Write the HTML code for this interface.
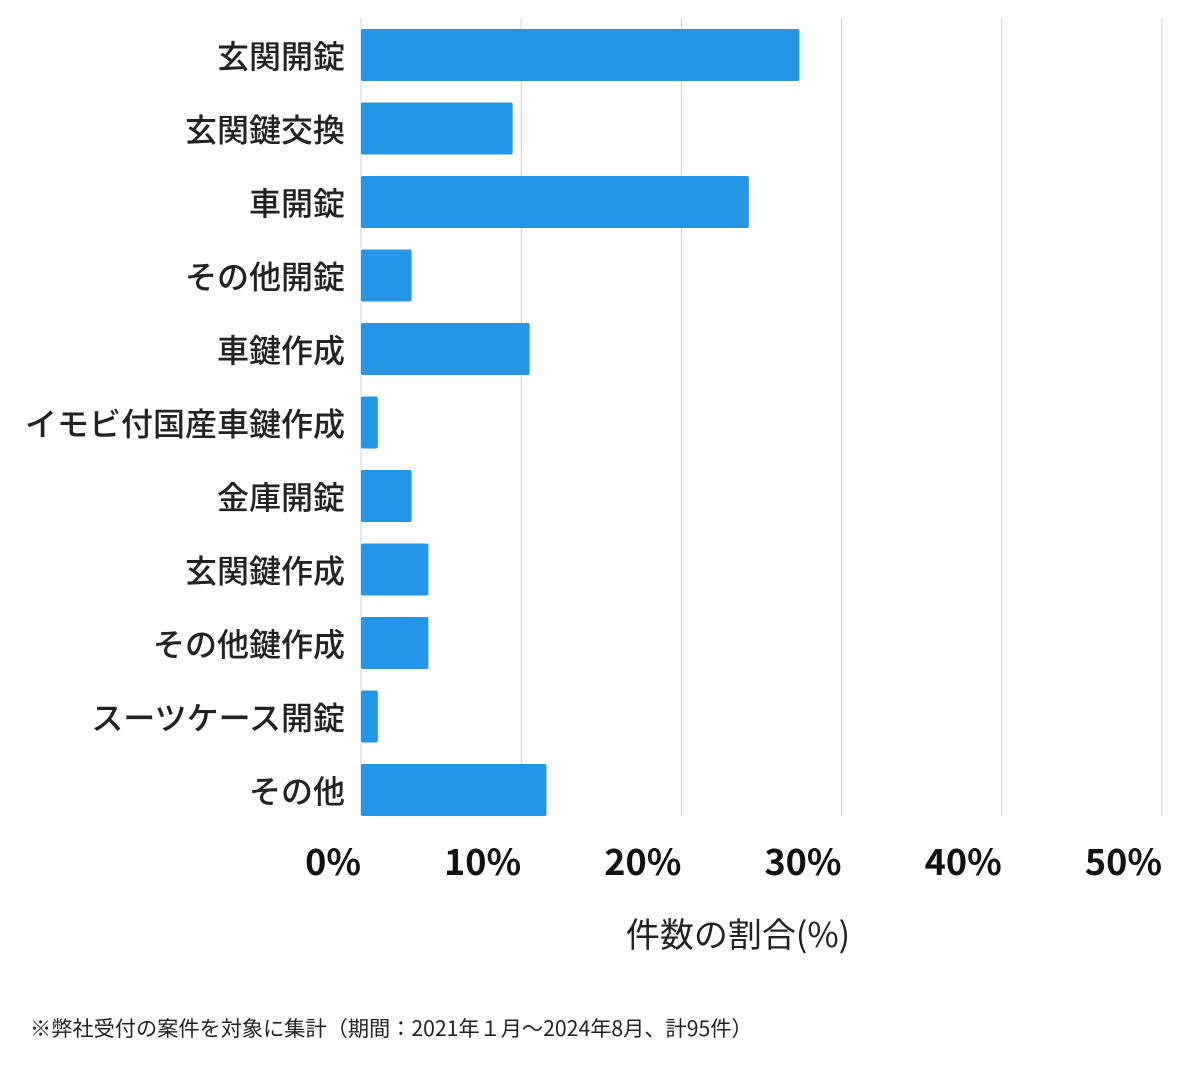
<!DOCTYPE html>
<html><head><meta charset="utf-8">
<style>
body{margin:0;background:#fff;width:1200px;height:1069px;overflow:hidden;font-family:"Noto Sans CJK JP",sans-serif;}
</style></head>
<body>
<svg id="chart" width="1200" height="1069" xmlns="http://www.w3.org/2000/svg" style="font-family:'Noto Sans CJK JP','Liberation Sans',sans-serif"></svg>
<script>
const categories=["玄関開錠","玄関鍵交換","車開錠","その他開錠","車鍵作成","イモビ付国産車鍵作成","金庫開錠","玄関鍵作成","その他鍵作成","スーツケース開錠","その他"];
const values=[27.37,9.47,24.21,3.16,10.53,1.05,3.16,4.21,4.21,1.05,11.58];
const ticks=[0,10,20,30,40,50];
const tickLabels=["0%","10%","20%","30%","40%","50%"];
const NS="http://www.w3.org/2000/svg";
const svg=document.getElementById('chart');
const x0=361,x1=1162,top0=29,step=73.5,bh=52;
const xs=v=>x0+(v/50)*(x1-x0);
function mk(t,a){const e=document.createElementNS(NS,t);for(const k in a)e.setAttribute(k,a[k]);svg.appendChild(e);return e;}
ticks.forEach((t,i)=>{
  const g=mk('line',{x1:xs(t),x2:xs(t),y1:18,y2:816,stroke:'#d0d0d0','stroke-width':1});
  
  
  const l=mk('text',{x:xs(t),y:875,'text-anchor':'end','font-size':36,'font-weight':'bold',fill:'#111'});
  l.textContent=tickLabels[i];
  
  
});
categories.forEach((c,i)=>{
  const y=top0+i*step;
  const r=mk('rect',{x:x0,y:y,width:xs(values[i])-x0,height:bh,rx:2,fill:'#2595e6'});
  
  
  const t=mk('text',{x:345,y:y+bh/2+13,'text-anchor':'end','font-size':32,'font-weight':500,fill:'#222'});
  t.textContent=c;
  
  
});
const at=mk('text',{x:738,y:947,'text-anchor':'middle','font-size':34,fill:'#222'});
at.textContent='件数の割合(%)';


const fn=mk('text',{x:30,y:1036,'font-size':21.2,fill:'#222'});
fn.textContent='※弊社受付の案件を対象に集計（期間：2021年１月〜2024年8月、計95件）';


</script>
</body></html>
